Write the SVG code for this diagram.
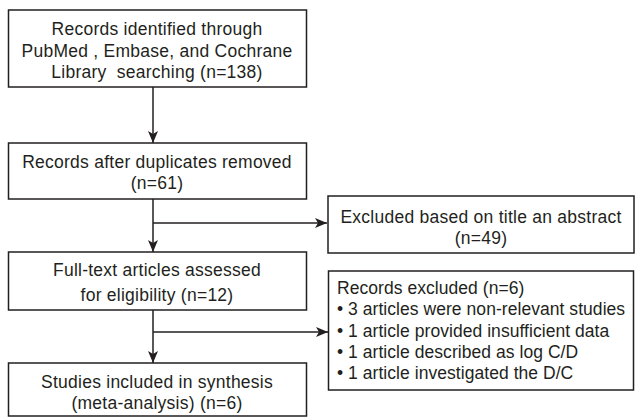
<svg xmlns="http://www.w3.org/2000/svg" width="635" height="417" viewBox="0 0 635 417">
<style>
.box{fill:#fff;stroke:#231f20;stroke-width:1.5}
.t{font-family:"Liberation Sans",Arial,sans-serif;font-size:17.5px;letter-spacing:0.25px;fill:#231f20}
.c{text-anchor:middle}
.b{letter-spacing:0.05px}
.ln{fill:none;stroke:#231f20;stroke-width:1.5}
</style>
<defs>
<marker id="ah" viewBox="0 0 12 10" refX="12" refY="5" markerWidth="12" markerHeight="10" markerUnits="userSpaceOnUse" orient="auto">
<path d="M0,0 L12,5 L0,10 L3,5 Z" fill="#231f20"/>
</marker>
</defs>
<rect width="635" height="417" fill="#fff"/>
<g id="n1"><rect class="box" x="8.5" y="10" width="298" height="77"/>
<text class="t c" x="157" y="35">Records identified through</text>
<text class="t c" x="157" y="57">PubMed , Embase, and Cochrane</text>
<text class="t c" x="157" y="78">Library&#160; searching (n=138)</text></g>
<g id="n2"><rect class="box" x="8.5" y="143" width="298" height="56"/>
<text class="t c" x="157" y="168">Records after duplicates removed</text>
<text class="t c" x="157" y="189">(n=61)</text></g>
<g id="n3"><rect class="box" x="8.5" y="252" width="298" height="58"/>
<text class="t c" x="157" y="276">Full-text articles assessed</text>
<text class="t c" x="157" y="301">for eligibility (n=12)</text></g>
<g id="n4"><rect class="box" x="8.5" y="363" width="298" height="53"/>
<text class="t c" x="157" y="388">Studies included in synthesis</text>
<text class="t c" x="157" y="409">(meta-analysis) (n=6)</text></g>
<g id="n5"><rect class="box" x="328" y="196" width="306" height="57"/>
<text class="t c" x="481" y="223">Excluded based on title an abstract</text>
<text class="t c" x="481" y="244">(n=49)</text></g>
<g id="n6"><rect class="box" x="328.5" y="271" width="305" height="119"/>
<text class="t b" x="337" y="294">Records excluded (n=6)</text>
<text class="t b" x="337" y="315">• 3 articles were non-relevant studies</text>
<text class="t b" x="337" y="337">• 1 article provided insufficient data</text>
<text class="t b" x="337" y="358">• 1 article described as log C/D</text>
<text class="t b" x="337" y="379">• 1 article investigated the D/C</text></g>
<g id="connectors">
<line class="ln" x1="153" y1="87" x2="153" y2="143" marker-end="url(#ah)"/>
<line class="ln" x1="153" y1="199" x2="153" y2="252" marker-end="url(#ah)"/>
<line class="ln" x1="153" y1="223" x2="327" y2="223" marker-end="url(#ah)"/>
<line class="ln" x1="153" y1="310" x2="153" y2="363" marker-end="url(#ah)"/>
<line class="ln" x1="153" y1="332" x2="328" y2="332" marker-end="url(#ah)"/>
</g>
</svg>
